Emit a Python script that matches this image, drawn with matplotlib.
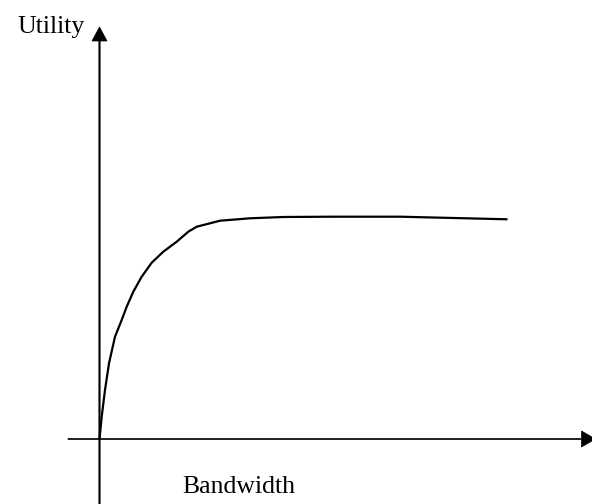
import matplotlib.pyplot as plt

# utility curve (origin at the axes crossing)
bandwidth = [0, 2.2, 5.5, 9.5, 15.5, 22.2, 27.2, 33.8, 42.2, 52.2, 63.8,
             77.2, 88.8, 97.2, 110.5, 120.5, 150.5, 183.5, 233.5, 300.5, 408]
utility = [0, 22.3, 49, 75.7, 102.3, 119, 132.3, 147.3, 162.3, 176.3, 187.3,
           197.3, 207.3, 212.3, 215.7, 218.3, 220.7, 222, 222.3, 222.3, 219.7]

plt.rcParams['font.family'] = ['Liberation Serif', 'DejaVu Serif']

fig = plt.figure(figsize=(5.92, 5.04), dpi=100)
ax = fig.add_axes([0, 0, 1, 1])
ax.set_xlim(-99.5, 492.5)
ax.set_ylim(-65, 439)
ax.axis('off')

# axes with arrow heads
ax.arrow(-31.5, 0, 527.5, 0, width=1.0, head_width=16, head_length=14,
         length_includes_head=True, fc='black', ec='black', lw=0.5)
ax.arrow(0, -65, 0, 477, width=1.3, head_width=15, head_length=14,
         length_includes_head=True, fc='black', ec='black', lw=0.5)

ax.plot(bandwidth, utility, color='black', lw=1.6, solid_capstyle='butt',
        solid_joinstyle='round')

ax.text(-82.5, 406, 'Utility', fontsize=18.5, ha='left', va='baseline')
ax.text(82.5, -54, 'Bandwidth', fontsize=18.5, ha='left', va='baseline')

plt.savefig('out.png', dpi=100)
